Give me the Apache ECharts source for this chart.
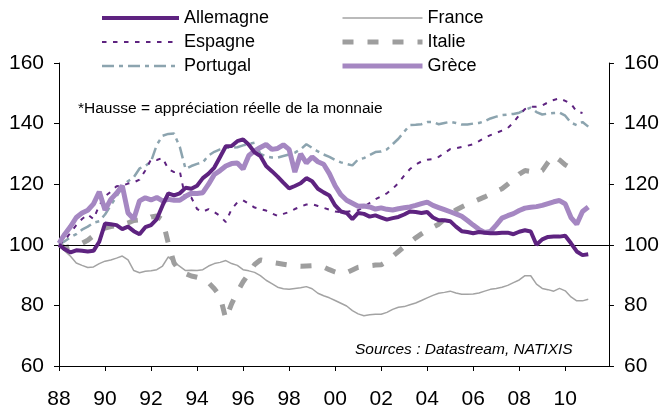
<!DOCTYPE html>
<html>
<head>
<meta charset="utf-8">
<script src="https://cdn.jsdelivr.net/npm/echarts@6/dist/echarts.min.js"></script>
<style>
html,body{margin:0;padding:0;background:#fff;}
#c{width:662px;height:410px;}
</style>
</head>
<body>
<div id="c"></div>
<script>
// Quarterly time grid, 1988Q1 .. 2011Q1
const quarters = Array.from({length: 93}, (_, i) => 1988 + i * 0.25);
const xTickLabels = ['88','90','92','94','96','98','00','02','04','06','08','10'];
const seriesNames = ['Allemagne','France','Espagne','Italie','Portugal','Grèce'];

const allemagne = [
  100, 98.5, 97.5, 98.2,
  98.0, 97.8, 98.0, 101,
  107, 106.8, 106.5, 105.2,
  106, 104.5, 103.5, 105.8,
  106.5, 108.5, 113, 117,
  116.3, 117, 118.8, 118.5,
  119.5, 122, 123.5, 125.5,
  129, 132.5, 132.6, 134.2,
  134.8, 133, 130.5, 129.3,
  126, 124.3, 122.5, 120.5,
  118.6, 119.4, 120.3, 122,
  121, 118.5, 117.3, 116.3,
  113, 111, 110.5, 108.5,
  110.5, 110.2, 109.3, 109.7,
  109, 108.3, 108.8, 109.2,
  110, 111, 110.8, 110.5,
  110.8, 109, 108.1, 108.1,
  107.8, 106, 104.5, 104.2,
  103.8, 104.2, 104, 103.8,
  103.8, 104, 104, 103.5,
  104.3, 104.8, 104.4, 100,
  101.8, 102.6, 102.7, 102.7,
  103, 100.5, 97.8, 96.6,
  96.9
];
const france = [
  100, 98, 96.2, 94,
  93.2, 92.5, 92.7, 93.8,
  94.6, 95, 95.6, 96.3,
  95, 91.5, 90.8, 91.3,
  91.4, 91.8, 93, 96,
  94.3, 92.9, 91.5, 91.6,
  91.5, 91.8, 93, 93.8,
  94.2, 94.8, 93.8, 93.2,
  91.8, 91.4, 90.9, 89.8,
  88.3, 87.2, 86, 85.5,
  85.3, 85.6, 85.8, 86.2,
  85.5, 84, 83.2, 82.5,
  81.6, 80.7, 79.8, 78.3,
  77.2, 76.6, 76.9, 77.1,
  77.1, 77.7, 78.7, 79.4,
  79.6, 80.2, 80.8, 81.6,
  82.5, 83.3, 84, 84.3,
  84.7, 84.1, 83.7, 83.7,
  83.8, 84.1, 84.7, 85.3,
  85.6, 86, 86.6, 87.5,
  88.4, 89.8, 89.8, 87,
  85.6, 85.2, 84.7, 85.6,
  84.8, 82.8, 81.5, 81.5,
  82
];
const espagne = [
  100, 101.5, 104, 106.5,
  108.5, 110, 108.5, 113,
  116, 117.5, 119.3, 119.5,
  120.2, 120.6, 121.5, 124.5,
  128.2, 128, 128.7, 125,
  124, 124.3, 115, 115.6,
  111.8, 110.9, 111.8, 110.8,
  109.5, 107.5, 111.8, 114,
  114.7, 113.5, 112.3, 111.8,
  111.3, 110.4, 109.5, 110.2,
  110.8, 111.8, 112.6, 113.3,
  113.4, 112.8, 112.2, 111.6,
  111, 110.8, 110.9, 111.2,
  111.4, 112.5, 113.8, 115,
  116, 117, 118.5, 120.4,
  122.8, 125, 126.5, 127.5,
  128.1, 128.3, 129, 130.3,
  131.6, 131.9, 132.3, 132.7,
  133.2, 134.2, 135.3, 136.2,
  136.9, 137.7, 138.5, 140.4,
  142.8, 144.8, 145.6, 145.6,
  146, 147, 147.8, 148.3,
  147.5, 146.5, 144, 143.5,
  null
];
const italie = [
  100, 99, 99.5, 100,
  100.5, 101.5, 103, 104.5,
  105.5, 106, 106.4, 106.6,
  107.2, 108, 108.2, 108.1,
  109.2, 109.5, 108.2, 100.5,
  94, 91.3, 90.5, 89.7,
  89.3, 88.8, 87.5, 85.5,
  83, 75.5, 80.5, 84.5,
  87.8, 90.5, 93.5, 95,
  94.6, 94.2, 93.9, 93.6,
  93.3, 93, 92.9, 93,
  93.1, 93.2, 92.7, 91.8,
  91, 90.4, 90.8, 91.7,
  92.6, 92.9, 93.1, 93.3,
  93.4, 94.5, 96.2, 97.8,
  99.4, 100.8, 102.3, 103.6,
  104.8, 105.8, 106.8, 108.4,
  110, 111.5, 112.5, 113.4,
  114.2, 115, 115.8, 116.7,
  117.6, 118.5, 120, 121.6,
  123.3, 124.5, 124.2, 123.5,
  124.5, 127.2, 129.4, 128,
  126.4, 125.3, null, null,
  null
];
const portugal = [
  100, 101.2, 102.5, 103.5,
  105, 106, 107.3, 107.8,
  110, 113, 116, 119,
  121, 122.3, 125.2, 126,
  127.5, 133, 136, 136.6,
  136.7, 132.3, 125, 126,
  126.7, 127.2, 129.5, 130.7,
  131.5, 132, 132, 132.2,
  132.8, 133.3, 133.7, 130,
  129.2, 128.8, 128.8, 129.3,
  129.8, 130.4, 131.5, 133.2,
  132, 130.8, 129.8, 129,
  128, 127.2, 126.7, 126.2,
  128.2, 128.6, 129.6, 130.6,
  130.8, 131.5, 133.2, 135,
  137.3, 139.5, 139.6, 139.8,
  140.5, 140.5, 139.8, 140.2,
  140.6, 140.2, 139.7, 139.7,
  140, 140.2, 140.8, 141.7,
  142.3, 142.8, 143, 143.2,
  143.6, 144.5, 145.3, 143.8,
  143, 143.3, 143.5, 143.6,
  142.6, 140.3, 139.5, 140.5,
  139
];
const grece = [
  100.5, 103.5, 106, 109,
  110.5, 111.4, 113.5, 117.5,
  111.5, 115, 117, 119.5,
  110.5, 108.5, 114.5, 115.5,
  114.8, 115.6, 114.5, 115,
  114.7, 114.7, 116, 117,
  116.9, 117.2, 120, 123.2,
  124.5, 126, 126.8, 127,
  125, 129.5, 131, 132.1,
  133.1, 131.5, 131.8, 133,
  131.5, 124, 130, 127,
  129, 127.4, 126.6, 123.5,
  119.5, 116.5, 114.7, 113.7,
  112.7, 112.8, 112.5, 111.8,
  112.2, 111.7, 111.5, 111.9,
  112.2, 112.5, 113, 113.6,
  114.1, 113, 112.3, 111.6,
  110.9, 110.2, 109.4, 108,
  106.5, 105.1, 104.1, 104.4,
  106.5, 108.8, 109.6, 110.3,
  111.3, 112.1, 112.4, 112.6,
  113, 113.6, 114.2, 114.6,
  113.5, 109, 106.8, 111,
  112.5
];

const pair = arr => quarters.map((q, i) => [q, arr[i] == null ? null : arr[i]]);
const FONT = "'Liberation Sans', Arial, sans-serif";
const PURPLE = '#5E2380';
const GREY = '#A3A3A3';
const ITALY = '#9E9E9E';
const PORT = '#8CA4AF';
const GREEK = '#A587C2';

const styles = {
  'Allemagne': {color: PURPLE, width: 4, type: 'solid'},
  'France': {color: GREY, width: 1.5, type: 'solid'},
  'Espagne': {color: PURPLE, width: 2, type: [4.5, 6.5]},
  'Italie': {color: ITALY, width: 5, type: [11, 14]},
  'Portugal': {color: PORT, width: 2.5, type: [12, 5, 4, 5]},
  'Grèce': {color: GREEK, width: 5, type: 'solid'}
};
const legendItem = n => ({name: n, lineStyle: {width: styles[n].width, type: styles[n].type, color: styles[n].color}});

const chart = echarts.init(document.getElementById('c'), null, {renderer: 'canvas'});
const yAxisBase = {
  type: 'value', min: 60, max: 160, interval: 20,
  axisLine: {show: true, lineStyle: {color: '#000', width: 1}},
  axisTick: {show: true, length: 5, lineStyle: {color: '#000'}},
  splitLine: {show: false},
  axisLabel: {fontSize: 21, color: '#000', fontFamily: FONT, margin: 15}
};
const legendBase = {
  orient: 'vertical', top: 9, itemHeight: 20, itemGap: 6, padding: 0,
  textStyle: {fontSize: 18, color: '#000', fontFamily: FONT},
  itemStyle: {opacity: 0},
  selectedMode: false
};
chart.setOption({
  animation: false,
  backgroundColor: '#fff',
  grid: {left: 59, right: 53, top: 63, bottom: 41, containLabel: false},
  legend: [
    Object.assign({}, legendBase, {left: 100, itemWidth: 77,
      data: [seriesNames[0], seriesNames[2], seriesNames[4]].map(legendItem)}),
    Object.assign({}, legendBase, {left: 340, itemWidth: 80,
      data: [seriesNames[1], seriesNames[3], seriesNames[5]].map(legendItem)})
  ],
  xAxis: {
    type: 'value', min: 1988, max: 2011.9, interval: 2,
    axisLine: {show: true, onZero: false, lineStyle: {color: '#000', width: 1}},
    axisTick: {show: true, length: 5, lineStyle: {color: '#000'}},
    splitLine: {show: false},
    axisLabel: {
      fontSize: 21, color: '#000', fontFamily: FONT, margin: 23,
      showMaxLabel: false,
      formatter: v => {
        const k = Math.round((v - 1988) / 2);
        return (Math.abs(v - (1988 + 2 * k)) < 1e-6 && k < xTickLabels.length) ? xTickLabels[k] : '';
      }
    }
  },
  yAxis: [
    Object.assign({}, yAxisBase, {position: 'left'}),
    Object.assign({}, yAxisBase, {position: 'right'})
  ],
  graphic: [
    {type: 'text', left: 78, top: 101, style: {text: '*Hausse = appréciation réelle de la monnaie', font: '15.5px ' + FONT, fill: '#000'}},
    {type: 'text', left: 355, top: 342, style: {text: 'Sources : Datastream, NATIXIS', font: 'italic 15.5px ' + FONT, fill: '#000'}}
  ],
  series: [
    {name: 'France', data: pair(france), z: 2},
    {name: 'Italie', data: pair(italie), z: 2},
    {name: 'Portugal', data: pair(portugal), z: 3},
    {name: 'Espagne', data: pair(espagne), z: 3},
    {name: 'Grèce', data: pair(grece), z: 4},
    {name: 'Allemagne', data: pair(allemagne), z: 5,
     markLine: {silent: true, symbol: 'none', label: {show: false},
       lineStyle: {color: '#000', width: 1, type: 'solid'}, data: [{yAxis: 100}]}}
  ].map(s => Object.assign({
    type: 'line', symbol: 'none',
    lineStyle: {color: styles[s.name].color, width: styles[s.name].width, type: styles[s.name].type},
    itemStyle: {color: styles[s.name].color}
  }, s))
});
</script>
</body>
</html>
